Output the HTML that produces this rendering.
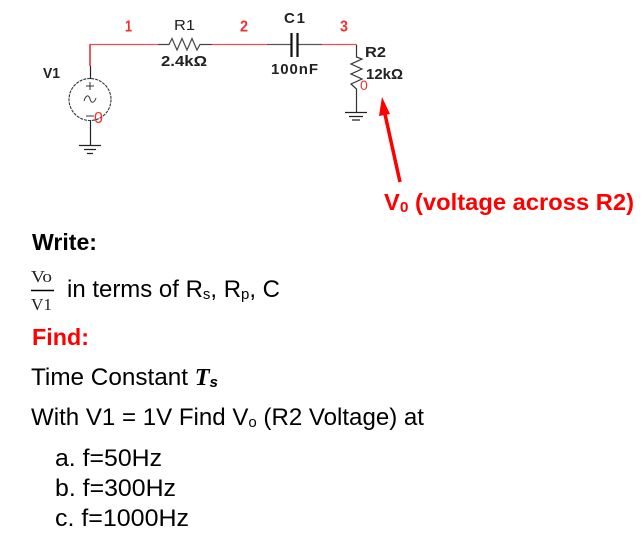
<!DOCTYPE html>
<html>
<head>
<meta charset="utf-8">
<style>
html,body{margin:0;padding:0;background:#fff;}
svg{display:block;}
text{font-family:"Liberation Sans",sans-serif;}
</style>
</head>
<body>
<svg width="644" height="537" viewBox="0 0 644 537" xmlns="http://www.w3.org/2000/svg">
<!-- wires -->
<g fill="none" stroke="#f05050" stroke-width="1.3">
<path d="M90 66V44.500H158"/>
<path d="M212 44.500H267"/>
<path d="M322 44.500H356"/>
</g>
<path d="M90 44.500V66" stroke="#e02020" stroke-width="1.3" fill="none"/>
<g fill="none" stroke="#444" stroke-width="1.2">
<path d="M158 44.500H169L172 38.500L177 50L182 38.500L187 50L192 38.500L197 50L200 44.500H212"/>
<path d="M267 44.500H291M298 44.500H322" stroke="#555"/>
</g>
<path d="M291.500 33V57M297.500 33V57" stroke="#111" stroke-width="2.2"/>
<!-- R2 -->
<path d="M356.500 44.500V57L362 59L351 64L362 69L351 74L362 79L351 84L356.500 89V112" fill="none" stroke="#333" stroke-width="1.2"/>
<path d="M345 112.500H367M349 116.500H363M352 120H360" stroke="#222" stroke-width="1.3"/>
<!-- V1 -->
<path d="M90.500 66V79M90.500 120V145" stroke="#222" stroke-width="1.2"/>
<circle cx="90" cy="99.500" r="21" fill="none" stroke="#333" stroke-width="1.1" stroke-dasharray="3 1"/>
<path d="M86 86H94M90 82V90M86 116H94" stroke="#333" stroke-width="1"/>
<path d="M84 101C86 94 89 95 90 99C91 103 94 104 96 98" fill="none" stroke="#333" stroke-width="1"/>
<path d="M79 145.500H101M84 149.500H96M87 153.500H93" stroke="#222" stroke-width="1.3"/>
<!-- schematic labels -->
<g font-size="15" fill="#222">
<text x="43" y="78" font-weight="bold" textLength="17" lengthAdjust="spacingAndGlyphs">V1</text>
<text x="174" y="30" textLength="21" lengthAdjust="spacingAndGlyphs">R1</text>
<text x="161" y="66" font-weight="bold" textLength="46" lengthAdjust="spacingAndGlyphs">2.4kΩ</text>
<text x="284" y="23" font-weight="bold" textLength="21">C1</text>
<text x="271" y="74" font-weight="bold" textLength="47">100nF</text>
<text x="365" y="57" font-weight="bold" textLength="21" lengthAdjust="spacingAndGlyphs">R2</text>
<text x="366" y="79" font-weight="bold" textLength="37" lengthAdjust="spacingAndGlyphs">12kΩ</text>
</g>
<g font-size="16" fill="#f03030" font-weight="bold">
<text x="125" y="31.500" textLength="7" lengthAdjust="spacingAndGlyphs">1</text>
<text x="240" y="31.500" textLength="8" lengthAdjust="spacingAndGlyphs">2</text>
<text x="340" y="31.500" textLength="8" lengthAdjust="spacingAndGlyphs">3</text>
<text x="94" y="123" font-size="16" font-weight="normal">0</text>
<text x="360" y="90" font-size="14" font-weight="normal">0</text>
</g>
<!-- red arrow -->
<path d="M400 182L384.500 112" stroke="#ff0000" stroke-width="3.500" fill="none"/>
<path d="M382 97L390 114L379 116Z" fill="#ff0000"/>
<text x="384" y="210" font-size="23" font-weight="bold" fill="#ff0000" textLength="250" lengthAdjust="spacingAndGlyphs">V<tspan font-size="15" dy="2">0</tspan><tspan dy="-2"> (voltage across R2)</tspan></text>
<!-- text -->
<text x="32" y="250" font-size="23" font-weight="bold" fill="#000" textLength="65" lengthAdjust="spacingAndGlyphs">Write:</text>
<text x="31" y="282" font-size="17" fill="#222" style="font-family:'Liberation Serif',serif" textLength="21" lengthAdjust="spacingAndGlyphs">Vo</text>
<path d="M31 290.500H54" stroke="#000" stroke-width="1.500"/>
<text x="31" y="310" font-size="17" fill="#222" style="font-family:'Liberation Serif',serif" textLength="21" lengthAdjust="spacingAndGlyphs">V1</text>
<text x="67" y="297" font-size="24" fill="#000" textLength="213" lengthAdjust="spacingAndGlyphs">in terms of R<tspan font-size="15" dy="2">s</tspan><tspan dy="-2">, R</tspan><tspan font-size="15" dy="2">p</tspan><tspan dy="-2">, C</tspan></text>
<text x="32" y="345" font-size="23" font-weight="bold" fill="#ff0000" textLength="57" lengthAdjust="spacingAndGlyphs">Find:</text>
<text x="31" y="385" font-size="24" fill="#000" textLength="187" lengthAdjust="spacingAndGlyphs">Time Constant <tspan font-weight="bold" font-style="italic" style="font-family:'Liberation Serif',serif">T</tspan><tspan font-weight="bold" font-style="italic" font-size="15" dy="2">s</tspan></text>
<text x="31" y="425" font-size="24" fill="#000" textLength="393" lengthAdjust="spacingAndGlyphs">With V1 = 1V Find V<tspan font-size="15" dy="2">o</tspan><tspan dy="-2"> (R2 Voltage) at</tspan></text>
<text x="55" y="466" font-size="24.500" fill="#000" textLength="107" lengthAdjust="spacingAndGlyphs">a. f=50Hz</text>
<text x="55" y="496" font-size="24.500" fill="#000" textLength="121" lengthAdjust="spacingAndGlyphs">b. f=300Hz</text>
<text x="55" y="526" font-size="24.500" fill="#000" textLength="134" lengthAdjust="spacingAndGlyphs">c. f=1000Hz</text>
</svg>
</body>
</html>
